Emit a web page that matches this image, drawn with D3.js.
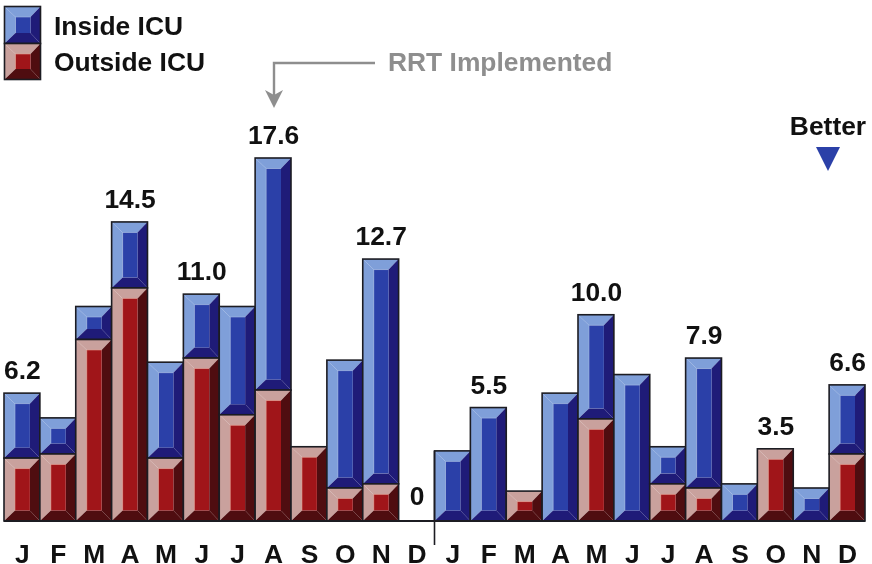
<!DOCTYPE html>
<html><head><meta charset="utf-8">
<script src="https://cdn.jsdelivr.net/npm/d3@7"></script>
<style>html,body{margin:0;padding:0;background:#fff;overflow:hidden}svg{display:block;filter:blur(0.45px)}text{font-family:"Liberation Sans",Arial,sans-serif;font-weight:bold}</style>
</head><body><div id="chart"></div>
<script>
const months = ["J","F","M","A","M","J","J","A","S","O","N","D","J","F","M","A","M","J","J","A","S","O","N","D"];
const outsideICU = [3.05,3.25,8.8,11.3,3.05,7.9,5.15,6.35,3.6,1.6,1.8,0,0,0,1.45,0,4.95,0,1.8,1.6,0,3.5,0,3.25];
const insideICU  = [3.15,1.75,1.6,3.2,4.65,3.1,5.25,11.25,0,6.2,10.9,0,3.4,5.5,0,6.2,5.05,7.1,1.8,6.3,1.8,0,1.6,3.35];
const totalLabels = ["6.2",null,null,"14.5",null,"11.0",null,"17.6",null,null,"12.7","0",null,"5.5",null,null,"10.0",null,null,"7.9",null,"3.5",null,"6.6"];
const legendLabels = ["Inside ICU","Outside ICU"];
const annotationText = "RRT Implemented";
const betterText = "Better";

const W=872,H=564,base=521,fs=26.4;
const palette={
  inside:{light:"#7f9fd9",mid:"#2b40a8",dark:"#1f1b78",edge:"#a9c0e8"},
  outside:{light:"#c9a19d",mid:"#a01519",dark:"#4f0d10",edge:"#e8a090"}
};
const svg=d3.select("#chart").append("svg").attr("width",W).attr("height",H);
const x=d3.scaleBand().domain(d3.range(months.length)).range([4,865]).padding(0);
const y=d3.scaleLinear().domain([0,17.6]).range([base,158]);

function bevelRect(g,x0,y0,w,h,c,bl=11,br=10,by=10.5){
  const x1=x0+w,y1=y0+h;
  const ix0=x0+bl,ix1=x1-br,iy0=y0+Math.min(by,h/2),iy1=y1-Math.min(by,h/2);
  const poly=(pts,f)=>g.append("polygon").attr("points",pts.map(p=>p.join(",")).join(" ")).attr("fill",f);
  poly([[x0,y0],[x1,y0],[ix1,iy0],[ix0,iy0]],c.light);
  poly([[x0,y0],[ix0,iy0],[ix0,iy1],[x0,y1]],c.light);
  poly([[x1,y0],[ix1,iy0],[ix1,iy1],[x1,y1]],c.dark);
  poly([[x0,y1],[ix0,iy1],[ix1,iy1],[x1,y1]],c.dark);
  g.append("rect").attr("x",ix0).attr("y",iy0).attr("width",ix1-ix0).attr("height",iy1-iy0).attr("fill",c.mid);
  g.append("path").attr("d",`M${ix0},${iy1}V${iy0}H${ix1}`).attr("fill","none").attr("stroke",c.edge).attr("stroke-width",0.8).attr("opacity",.7);
  g.append("rect").attr("x",x0).attr("y",y0).attr("width",w).attr("height",h).attr("fill","none").attr("stroke","#1c1c22").attr("stroke-width",1.6);
}

const bars=svg.append("g");
months.forEach((m,i)=>{
  const o=outsideICU[i],n=insideICU[i],bw=x.bandwidth();
  if(n>0) bevelRect(bars,x(i),y(o+n),bw,y(o)-y(o+n),palette.inside);
  if(o>0) bevelRect(bars,x(i),y(o),bw,y(0)-y(o),palette.outside);
});

svg.append("line").attr("x1",4).attr("x2",865).attr("y1",base).attr("y2",base).attr("stroke","#1c1c22").attr("stroke-width",1.8);
svg.append("line").attr("x1",x(12)).attr("x2",x(12)).attr("y1",451).attr("y2",545).attr("stroke","#1c1c22").attr("stroke-width",1.6);

svg.append("g").selectAll("text").data(months).join("text")
  .attr("x",(d,i)=>x(i)+x.bandwidth()/2+0.5).attr("y",562.5).attr("text-anchor","middle")
  .attr("font-size",fs).attr("fill","#111").text(d=>d);

svg.append("g").selectAll("text").data(totalLabels.map((t,i)=>({t,i})).filter(d=>d.t!==null)).join("text")
  .attr("x",d=>x(d.i)+x.bandwidth()/2+0.5)
  .attr("y",d=>d.t==="0"?505:y(outsideICU[d.i]+insideICU[d.i])-14)
  .attr("text-anchor","middle").attr("font-size",fs).attr("fill","#111").text(d=>d.t);

const lg=svg.append("g");
bevelRect(lg,4.5,6.5,36,37,palette.inside);
bevelRect(lg,4.5,43.5,36,36,palette.outside);
lg.selectAll("text").data(legendLabels).join("text")
  .attr("x",54).attr("y",(d,i)=>i?70.5:35).attr("font-size",fs).attr("fill","#111").text(d=>d);

const grey="#8e8e8e";
svg.append("path").attr("d","M375,63H274V95").attr("fill","none").attr("stroke",grey).attr("stroke-width",2.4);
svg.append("path").attr("d","M265,90L274,95L283,90L274,108Z").attr("fill",grey);
svg.append("text").attr("x",388).attr("y",70.5).attr("font-size",fs).attr("fill",grey).text(annotationText);

svg.append("text").attr("x",828).attr("y",135).attr("text-anchor","middle").attr("font-size",fs).attr("fill","#111").text(betterText);
svg.append("path").attr("d","M816,147H840L828,171Z").attr("fill","#2b40a8");
</script></body></html>
